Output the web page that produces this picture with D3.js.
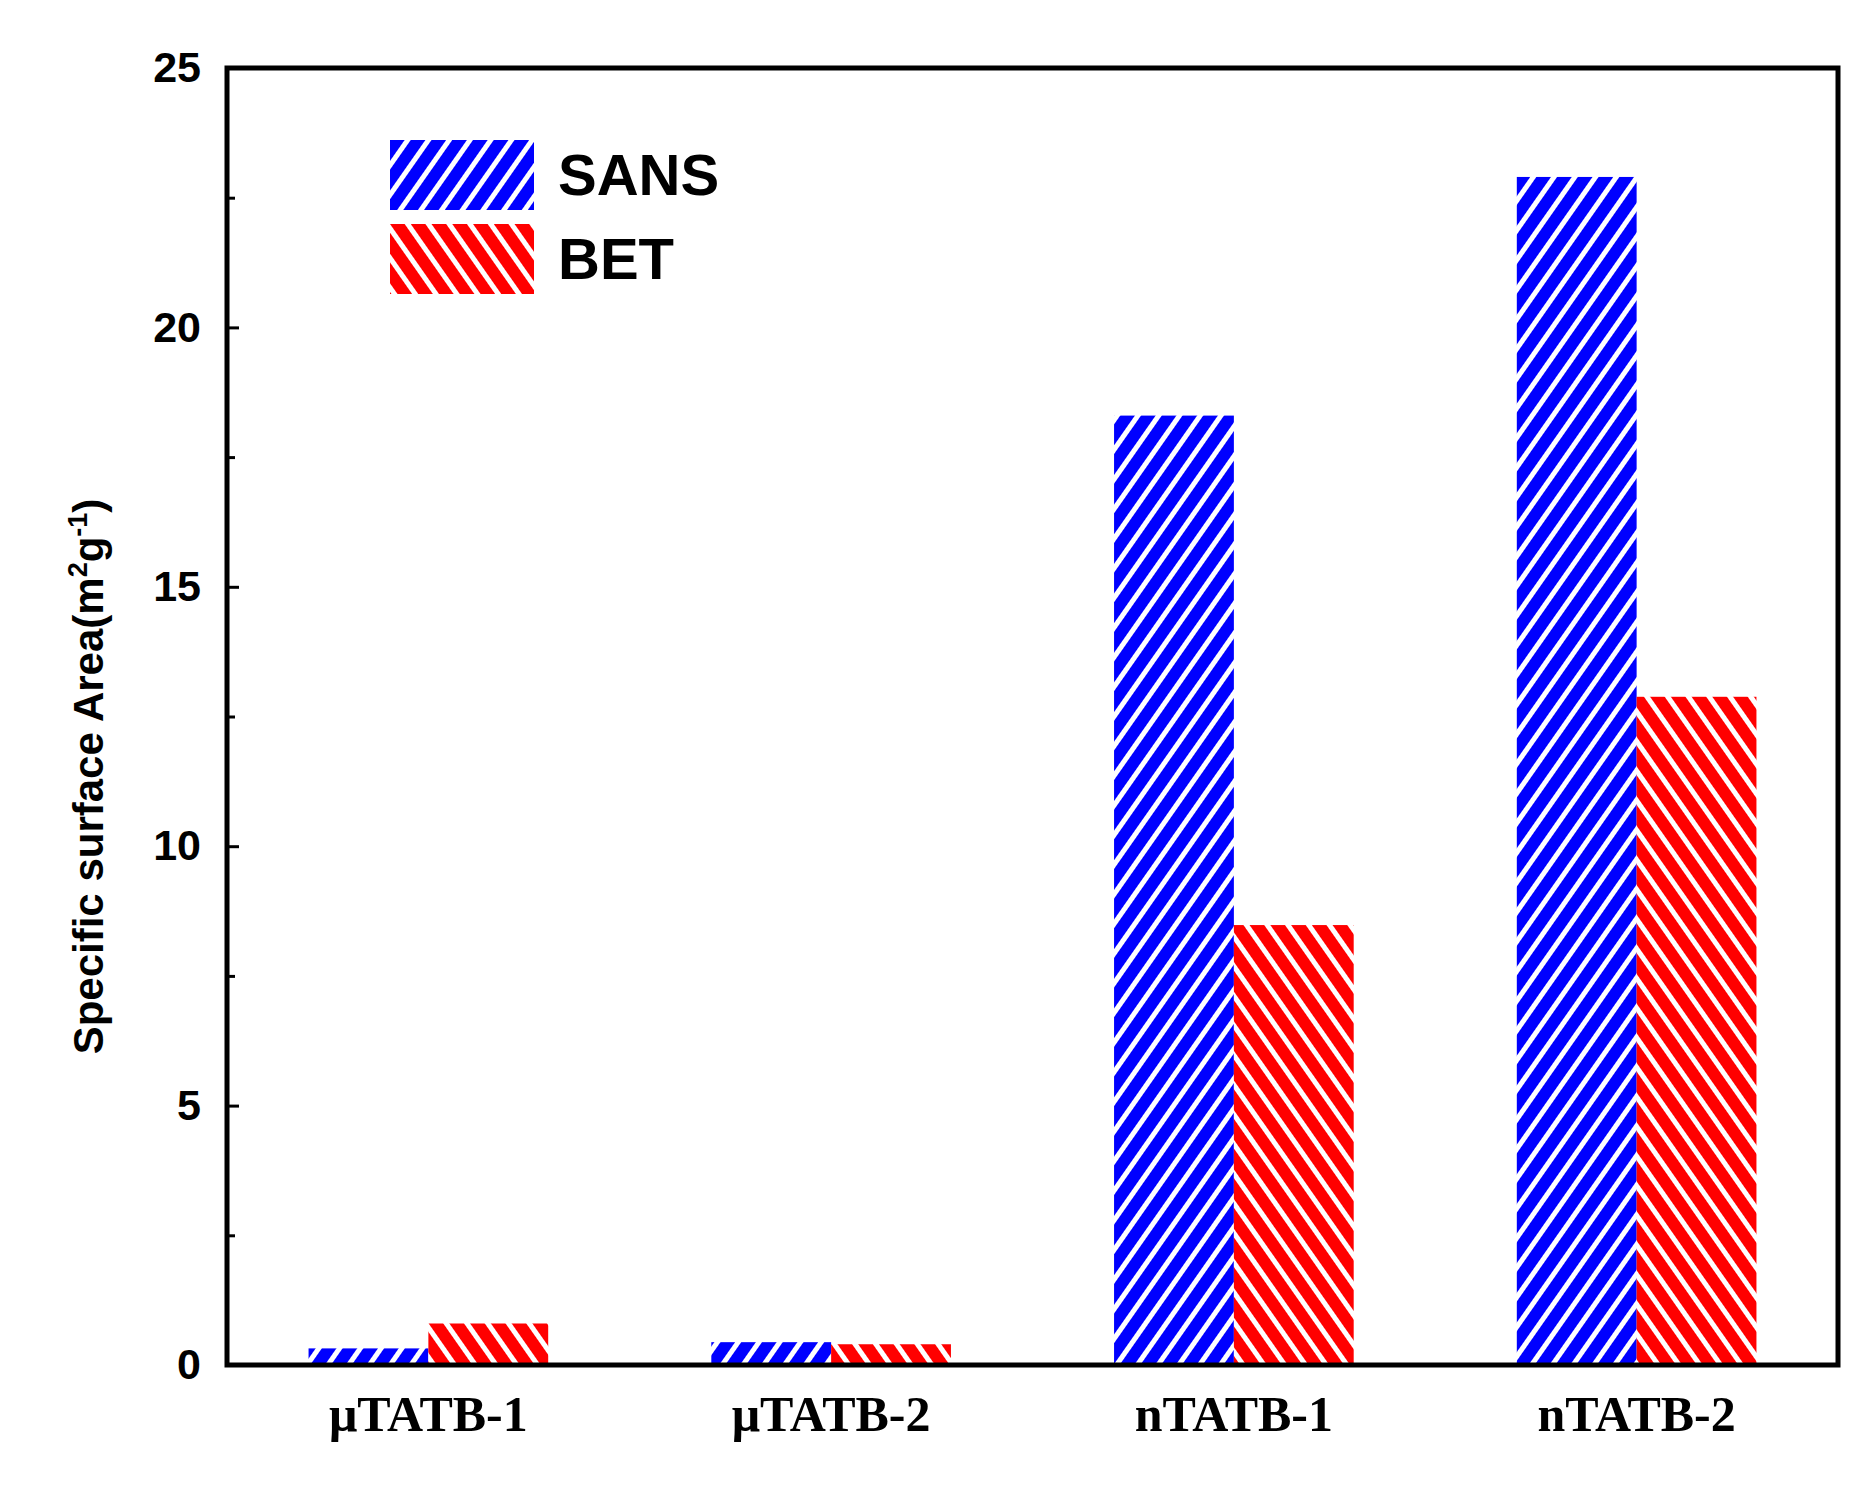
<!DOCTYPE html>
<html><head><meta charset="utf-8">
<script src="https://cdn.jsdelivr.net/npm/d3@7"></script>
<style>body{margin:0;background:#fff}</style>
</head><body>
<svg id="c" width="1868" height="1485"></svg>
<script>
var categories = ['μTATB-1', 'μTATB-2', 'nTATB-1', 'nTATB-2'];
var seriesNames = ['SANS', 'BET'];
var sansValues = [0.32, 0.44, 18.3, 22.9];
var betValues = [0.8, 0.4, 8.48, 12.88];
var yTicks = [0, 5, 10, 15, 20, 25];
var yMinorTicks = [2.5, 7.5, 12.5, 17.5, 22.5];

var m = {left: 227, right: 1838, top: 68, bottom: 1365};
var svg = d3.select('#c');

var defs = svg.append('defs');
function hatch(id, color, angle) {
  var p = defs.append('pattern').attr('id', id).attr('patternUnits', 'userSpaceOnUse')
    .attr('width', 17).attr('height', 17).attr('patternTransform', 'rotate(' + angle + ')');
  p.append('rect').attr('width', 17).attr('height', 17).attr('fill', color);
  p.append('rect').attr('x', 12).attr('width', 5).attr('height', 17).attr('fill', '#fff');
}
hatch('hSANS', '#0000ff', 35);
hatch('hBET', '#ff0000', -35);

var x = d3.scaleBand().domain(categories).range([m.left, m.right]).paddingInner(0.405).paddingOuter(0.2025);
var xs = d3.scaleBand().domain(seriesNames).range([0, x.bandwidth()]);
var y = d3.scaleLinear().domain([0, 25]).range([m.bottom, m.top]);

var data = [sansValues, betValues];
seriesNames.forEach(function (s, si) {
  svg.append('g').selectAll('rect').data(data[si]).enter().append('rect')
    .attr('x', function (d, i) { return x(categories[i]) + xs(s); })
    .attr('width', xs.bandwidth())
    .attr('y', function (d) { return y(d); })
    .attr('height', function (d) { return y(0) - y(d); })
    .attr('fill', 'url(#h' + s + ')');
});

// frame
svg.append('rect').attr('x', m.left).attr('y', m.top).attr('width', m.right - m.left)
  .attr('height', m.bottom - m.top).attr('fill', 'none').attr('stroke', '#000').attr('stroke-width', 5);

// y axis
var ya = svg.append('g').attr('transform', 'translate(' + m.left + ',0)')
  .call(d3.axisLeft(y).tickValues(yTicks).tickSize(-12).tickPadding(26).tickFormat(d3.format('d')));
ya.select('.domain').remove();
ya.selectAll('line').attr('stroke-width', 3);
ya.selectAll('text').attr('font-family', 'Liberation Sans, Arial').attr('font-weight', 'bold').attr('font-size', 43);
svg.append('g').attr('transform', 'translate(' + m.left + ',0)')
  .call(d3.axisLeft(y).tickValues(yMinorTicks).tickSize(-8).tickFormat(''))
  .call(function (g) { g.select('.domain').remove(); g.selectAll('line').attr('stroke-width', 3); });

// x labels
var xa = svg.append('g').attr('transform', 'translate(0,' + m.bottom + ')')
  .call(d3.axisBottom(x).tickSize(0).tickPadding(30));
xa.select('.domain').remove();
xa.selectAll('text').attr('font-family', 'Liberation Serif, Times New Roman').attr('font-weight', 'bold').attr('font-size', 50).attr('fill', '#000');

// y title
var t = svg.append('text').attr('transform', 'translate(103,' + ((m.top + m.bottom) / 2 + 60) + ') rotate(-90)')
  .attr('text-anchor', 'middle').attr('font-family', 'Liberation Sans, Arial').attr('font-weight', 'bold').attr('font-size', 42);
t.append('tspan').text('Specific surface Area(m');
t.append('tspan').attr('font-size', 27).attr('dy', -16).text('2');
t.append('tspan').attr('dy', 16).text('g');
t.append('tspan').attr('font-size', 27).attr('dy', -16).text('-1');
t.append('tspan').attr('dy', 16).text(')');

// legend
var lg = svg.append('g').selectAll('g').data(seriesNames).enter().append('g')
  .attr('transform', function (d, i) { return 'translate(390,' + (140 + i * 84) + ')'; });
lg.append('rect').attr('width', 144).attr('height', 70).attr('fill', function (d) { return 'url(#h' + d + ')'; });
lg.append('text').attr('x', 168).attr('y', 55).text(function (d) { return d; })
  .attr('font-family', 'Liberation Sans, Arial').attr('font-weight', 'bold').attr('font-size', 58);
</script>
</body></html>
